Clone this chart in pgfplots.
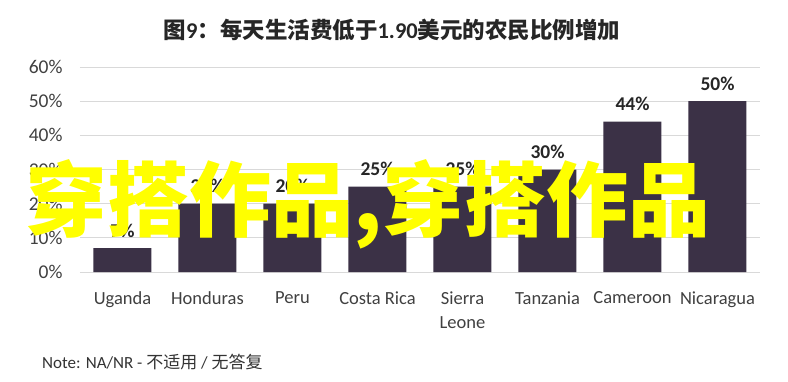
\documentclass[border=0pt]{standalone}
\usepackage{pgfplots}
\pgfplotsset{compat=1.18}
\usepackage{fontspec}
\setmainfont{Carlito}
\newfontfamily\cjk{Noto Sans CJK SC}
\definecolor{barc}{HTML}{3B3146}
\definecolor{txt}{HTML}{404040}
\definecolor{wm}{HTML}{FFFF00}
\begin{document}
\begin{tikzpicture}
\useasboundingbox (0pt,0pt) rectangle (788pt,381pt);
\fill[white] (0pt,0pt) rectangle (788pt,381pt);
\begin{axis}[at={(80pt,109pt)}, anchor=south west, scale only axis,
  width=680pt, height=205pt,
  ymin=0, ymax=60, xmin=-0.5, xmax=7.5,
  ytick={0,10,...,60},
  yticklabel={\pgfmathprintnumber{\tick}\%},
  /pgf/number format/assume math mode=true,
  ymajorgrids, grid style={color=black!15, line width=0.8pt},
  axis line style={draw=none}, major tick length=0pt,
  xtick=data,
  xticklabels={Uganda,Honduras,Peru,Costa Rica,Sierra\\Leone,Tanzania,Cameroon,Nicaragua},
  x tick label style={align=center, font=\fontsize{18.5}{24}\selectfont, text=txt, anchor=north, yshift=-16pt},
  y tick label style={font=\fontsize{19.5}{22}\selectfont, text=txt, xshift=-14pt},
  ybar, bar width=58pt,
  nodes near coords={\pgfmathprintnumber{\pgfplotspointmeta}\%},
  nodes near coords style={font=\bfseries\fontsize{19.5}{20}\selectfont, text=black!85, yshift=7pt},
  ]
\addplot[fill=barc, draw=none] coordinates {(0,7) (1,20) (2,20) (3,25) (4,25) (5,30) (6,44) (7,50)};
\end{axis}
\node[font=\bfseries\fontsize{22.5}{26}\selectfont, text=black!85] at (392pt,351pt) {{\cjk 图}9{\cjk ：每天生活费低于}1.90{\cjk 美元的农民比例增加}};
\node[anchor=west, font=\fontsize{17}{20}\selectfont, text=black!80, inner sep=0pt] at (42pt,19pt) {Note: NA/NR - {\cjk 不适用} / {\cjk 无答复}};
\node[text=wm, font=\cjk\bfseries\fontsize{82}{82}\selectfont, inner sep=0pt] at (368pt,177pt) {穿搭作品,穿搭作品};
\end{tikzpicture}
\end{document}
